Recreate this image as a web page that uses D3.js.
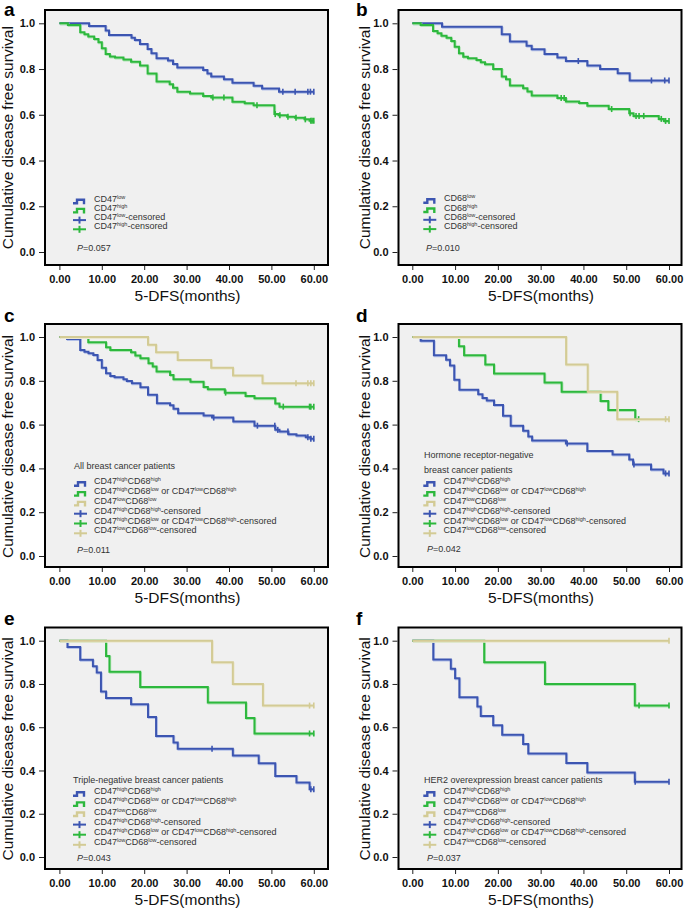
<!DOCTYPE html>
<html>
<head>
<meta charset="utf-8">
<script src="https://cdnjs.cloudflare.com/ajax/libs/d3/7.8.5/d3.min.js"></script>
<style>
body{margin:0;background:#fff;}
svg text{font-family:"Liberation Sans",Arial,sans-serif;}
</style>
</head>
<body>
<div id="canvas"></div>
<script>
// survival steps: [month, survival after the drop]; censored: months
var aLow = [[7.0,0.988],[10.9,0.968],[11.7,0.949],[17.0,0.937],[17.8,0.927],[19.0,0.909],[20.8,0.888],[21.7,0.869],[22.9,0.847],[25.6,0.837],[26.8,0.822],[27.8,0.807],[33.9,0.796],[34.9,0.781],[35.8,0.767],[38.8,0.755],[40.8,0.740],[45.8,0.727],[47.8,0.715],[51.8,0.701]];
var aLowCens = [52.7,55.6,58.6,59.2,60];
var aHigh = [[2.0,0.993],[4.9,0.961],[5.9,0.952],[6.8,0.942],[8.2,0.931],[9.2,0.917],[10.0,0.891],[10.9,0.866],[11.9,0.855],[13.1,0.850],[15.1,0.842],[16.9,0.832],[19.0,0.815],[20.8,0.781],[22.9,0.745],[26.0,0.734],[26.8,0.718],[27.8,0.701],[30.8,0.693],[33.9,0.682],[35.8,0.676],[40.8,0.657],[43.7,0.650],[45.8,0.642],[50.7,0.603],[51.7,0.598],[53.7,0.591],[55.6,0.587],[57.8,0.580],[59.0,0.574]];
var aHighCens = [36.2,38.8,46.6,50.9,52.0,53.9,55.8,58.0,59.3,59.6,60];

var bLow = [[6.95,0.985],[20.9,0.952],[22.8,0.920],[26.7,0.902],[27.9,0.886],[30.9,0.866],[33.9,0.850],[35.9,0.835],[40.9,0.815],[43.9,0.800],[48.0,0.782],[50.8,0.750]];
var bLowCens = [38.8,55.9,59.0,60];
var bHigh = [[1.95,0.993],[4.85,0.966],[5.9,0.956],[6.8,0.946],[8.0,0.937],[9.1,0.923],[9.9,0.898],[10.9,0.869],[11.9,0.854],[13.0,0.847],[15.0,0.840],[16.0,0.830],[17.0,0.821],[18.9,0.800],[20.9,0.767],[21.9,0.755],[22.8,0.728],[25.9,0.716],[26.9,0.702],[27.9,0.684],[33.9,0.673],[35.9,0.658],[39.0,0.651],[40.9,0.640],[45.9,0.625],[50.7,0.607],[51.7,0.595],[57.6,0.582],[58.8,0.573]];
var bHighCens = [34.8,35.5,46.6,50.9,52.3,53.0,54.1,58.2,59.2,60];

var cHH = [[1.8,0.991],[4.9,0.941],[5.9,0.933],[6.85,0.926],[8.0,0.918],[9.0,0.895],[10.0,0.860],[11.0,0.834],[12.0,0.822],[13.0,0.816],[15.1,0.807],[15.9,0.799],[17.1,0.789],[19.1,0.771],[20.9,0.736],[23.0,0.698],[26.1,0.688],[26.9,0.672],[28.0,0.652],[34.0,0.641],[36.0,0.632],[41.0,0.614],[46.0,0.595],[50.9,0.576],[51.9,0.569],[54.0,0.556],[55.9,0.550],[58.1,0.542],[59.2,0.535]];
var cHHCens = [36.4,46.7,50.8,51.5,53.9,58.6,59.3,60];
var cMix = [[6.8,0.976],[11.0,0.953],[12.0,0.941],[16.9,0.930],[17.9,0.915],[19.1,0.903],[21.0,0.880],[22.0,0.865],[22.9,0.842],[26.1,0.827],[26.9,0.807],[30.9,0.796],[34.0,0.772],[35.0,0.761],[39.0,0.746],[43.9,0.731],[46.0,0.720],[50.9,0.696],[51.9,0.682]];
var cMixCens = [39.2,52.8,59.0,59.3,60];
var cLL = [[20.9,0.965],[22.8,0.930],[27.9,0.895],[35.8,0.860],[40.95,0.824],[47.9,0.789]];
var cLLCens = [55.8,58.6,59.3,60];

var dHH = [[1.95,0.983],[5.05,0.917],[7.9,0.896],[8.8,0.870],[9.8,0.805],[11.0,0.759],[15.4,0.739],[16.4,0.721],[17.4,0.710],[19.1,0.690],[21.2,0.640],[23.0,0.595],[25.9,0.572],[27.1,0.546],[28.0,0.527],[35.9,0.514],[40.9,0.480],[46.8,0.464],[50.7,0.441],[51.6,0.418],[55.8,0.395],[58.7,0.377]];
var dHHCens = [36.2,51.8,59.2,60];
var dMix = [[10.9,0.958],[12.1,0.917],[17.05,0.875],[19.1,0.833],[30.9,0.792],[34.9,0.750],[44.0,0.708],[45.8,0.667],[52.1,0.625]];
var dMixCens = [52.9];
var dLL = [[35.95,0.875],[41.0,0.750],[47.9,0.625]];
var dLLCens = [59.2,60];

var eHH = [[1.9,0.971],[4.9,0.912],[7.9,0.882],[8.8,0.853],[9.8,0.765],[11.0,0.735],[16.9,0.706],[20.9,0.647],[22.8,0.559],[26.9,0.529],[27.9,0.500],[40.9,0.469],[47.0,0.434],[50.9,0.375],[55.9,0.344],[59.0,0.313]];
var eHHCens = [36.0,59.3,60];
var eMix = [[11.0,0.929],[11.8,0.857],[19.05,0.786],[35.0,0.714],[44.0,0.643],[46.0,0.571]];
var eMixCens = [59.0,60];
var eLL = [[36.0,0.900],[40.9,0.800],[48.0,0.700]];
var eLLCens = [59.0,60];

var fHH = [[4.9,0.913],[9.0,0.870],[10.0,0.826],[11.0,0.739],[15.2,0.696],[16.0,0.652],[18.9,0.609],[21.0,0.565],[25.9,0.522],[27.1,0.478],[36.0,0.435],[40.9,0.391],[52.0,0.348]];
var fHHCens = [52.1,60];
var fMix = [[16.8,0.900],[31.0,0.800],[52.0,0.700]];
var fMixCens = [53.0,60];
var fLL = [];
var fLLCens = [60];

var cd47Labels = ["CD47{low}","CD47{high}"];
var cd68Labels = ["CD68{low}","CD68{high}"];
var comboLabels = ["CD47{high}CD68{high}","CD47{high}CD68{low} or CD47{low}CD68{high}","CD47{low}CD68{low}"];
var pValues = ["0.057","0.010","0.011","0.042","0.043","0.037"];
var xTicks = [0,10,20,30,40,50,60];
var yTicks = [0,0.2,0.4,0.6,0.8,1.0];

var BLUE = "#3c55b1", GREEN = "#2db83d", TAN = "#d3cb95";
var SHADE = {};
SHADE[BLUE] = "#b3c0e8";
SHADE[GREEN] = "#ace3b1";
SHADE[TAN] = "#ebe7cf";

var cols = [
	{left:45, right:328, x0:59.4, x60:313.8, yTitle:13, letter:4},
	{left:398.5, right:681.5, x0:412.3, x60:669, yTitle:370, letter:356}
];
var rows = [
	{top:10, bottom:265, y1:23.3, y0:252, letter:16},
	{top:324, bottom:567, y1:337, y0:556, letter:322},
	{top:627.5, bottom:869, y1:640.7, y0:857, letter:625}
];

var panels = [
	{id:"a", col:0, row:0, p:pValues[0], labels:cd47Labels, title:[],
		groups:[{steps:aLow, cens:aLowCens, color:BLUE},{steps:aHigh, cens:aHighCens, color:GREEN}],
		leg:{sx:73, tx:94, y:201.7, dy:9.2, px:77, py:248.3}},
	{id:"b", col:1, row:0, p:pValues[1], labels:cd68Labels, title:[],
		groups:[{steps:bLow, cens:bLowCens, color:BLUE},{steps:bHigh, cens:bHighCens, color:GREEN}],
		leg:{sx:423.3, tx:444, y:201.2, dy:9.3, px:426, py:248.3}},
	{id:"c", col:0, row:1, p:pValues[2], labels:comboLabels, title:["All breast cancer patients"],
		groups:[{steps:cHH, cens:cHHCens, color:BLUE},{steps:cMix, cens:cMixCens, color:GREEN},{steps:cLL, cens:cLLCens, color:TAN}],
		leg:{sx:74, tx:94, y:484.3, dy:9.8, px:77, py:550, titleY:465.7, titleX:74}},
	{id:"d", col:1, row:1, p:pValues[3], labels:comboLabels, title:["Hormone receptor-negative","breast cancer patients"],
		groups:[{steps:dHH, cens:dHHCens, color:BLUE},{steps:dMix, cens:dMixCens, color:GREEN},{steps:dLL, cens:dLLCens, color:TAN}],
		leg:{sx:423.3, tx:443.5, y:484.3, dy:9.8, px:427, py:549.3, titleY:455, titleX:424}},
	{id:"e", col:0, row:2, p:pValues[4], labels:comboLabels, title:["Triple-negative breast cancer patients"],
		groups:[{steps:eHH, cens:eHHCens, color:BLUE},{steps:eMix, cens:eMixCens, color:GREEN},{steps:eLL, cens:eLLCens, color:TAN}],
		leg:{sx:73, tx:94, y:794.3, dy:10.1, px:77, py:858.3, titleY:780, titleX:73}},
	{id:"f", col:1, row:2, p:pValues[5], labels:comboLabels, title:["HER2 overexpression breast cancer patients"],
		groups:[{steps:fHH, cens:fHHCens, color:BLUE},{steps:fMix, cens:fMixCens, color:GREEN},{steps:fLL, cens:fLLCens, color:TAN}],
		leg:{sx:423.3, tx:443.5, y:794.3, dy:10.1, px:427, py:858.3, titleY:780, titleX:424}}
];

var svg = d3.select("#canvas")
	.append("svg")
	.attr("width", 685)
	.attr("height", 911);

svg.append("rect")
	.attr("width", 685)
	.attr("height", 911)
	.attr("fill", "#fff");

function survAt(steps, t){
	var s = 1;
	steps.forEach(function(d){ if(d[0] <= t) s = d[1]; });
	return s;
}

function richText(sel, str){
	var parts = str.split(/(\{[^}]*\})/).filter(function(s){ return s.length; });
	var sup = false;
	parts.forEach(function(p){
		if(p[0] === "{"){
			sel.append("tspan").attr("font-size", 5.5).attr("dy", -3).text(p.slice(1, -1));
			sup = true;
		}else{
			sel.append("tspan").attr("dy", sup ? 3 : 0).text(p);
			sup = false;
		}
	});
}

panels.forEach(function(pn){
	var c = cols[pn.col], r = rows[pn.row];
	var g = svg.append("g").attr("class", "panel");
	var x = d3.scaleLinear().domain([0, 60]).range([c.x0, c.x60]);
	var y = d3.scaleLinear().domain([0, 1]).range([r.y0, r.y1]);

	g.append("rect")
		.attr("x", c.left)
		.attr("y", r.top)
		.attr("width", c.right - c.left)
		.attr("height", r.bottom - r.top)
		.attr("fill", "#f0f0f0")
		.attr("stroke", "#000")
		.attr("stroke-width", 2);

	var yAxis = g.append("g")
		.attr("transform", "translate(" + (c.left - 1) + ",0)")
		.call(d3.axisLeft(y).tickValues(yTicks).tickFormat(d3.format(".1f")).tickSize(5).tickPadding(4));
	var xAxis = g.append("g")
		.attr("transform", "translate(0," + (r.bottom + 1) + ")")
		.call(d3.axisBottom(x).tickValues(xTicks).tickFormat(d3.format(".2f")).tickSize(4).tickPadding(5));
	[yAxis, xAxis].forEach(function(ax){
		ax.select(".domain").remove();
		ax.selectAll("text")
			.attr("font-size", 11)
			.attr("font-weight", "bold")
			.attr("fill", "#111")
			.style("font-family", "'Liberation Sans',Arial,sans-serif");
		ax.selectAll("line").attr("stroke", "#222");
	});

	g.append("text")
		.attr("x", (c.left + c.right) / 2 + 1)
		.attr("y", r.bottom + 36)
		.attr("text-anchor", "middle")
		.attr("font-size", 15.5)
		.attr("fill", "#111")
		.text("5-DFS(months)");

	g.append("text")
		.attr("transform", "translate(" + c.yTitle + "," + ((r.y0 + r.y1) / 2) + ") rotate(-90)")
		.attr("text-anchor", "middle")
		.attr("font-size", 15.5)
		.attr("fill", "#111")
		.text("Cumulative disease free survival");

	g.append("text")
		.attr("x", c.letter)
		.attr("y", r.letter)
		.attr("font-size", 19)
		.attr("font-weight", "bold")
		.attr("fill", "#000")
		.text(pn.id);

	var line = d3.line()
		.x(function(d){ return x(d[0]); })
		.y(function(d){ return y(d[1]); })
		.curve(d3.curveStepAfter);

	pn.groups.forEach(function(grp){
		var last = grp.steps.length ? grp.steps[grp.steps.length - 1] : [0, 1];
		var end = Math.max(last[0], d3.max(grp.cens));
		var pts = [[0, 1]].concat(grp.steps).concat([[end, last[1]]]);
		g.append("path")
			.attr("d", line(pts))
			.attr("transform", "translate(0.8,1)")
			.attr("fill", "none")
			.attr("stroke", SHADE[grp.color])
			.attr("stroke-width", 2);
		g.append("path")
			.attr("d", line(pts))
			.attr("fill", "none")
			.attr("stroke", grp.color)
			.attr("stroke-width", 2);
		g.selectAll(null)
			.data(grp.cens)
			.enter()
			.append("line")
			.attr("x1", function(d){ return x(d); })
			.attr("x2", function(d){ return x(d); })
			.attr("y1", function(d){ return y(survAt(grp.steps, d)) - 3; })
			.attr("y2", function(d){ return y(survAt(grp.steps, d)) + 3; })
			.attr("stroke", grp.color)
			.attr("stroke-width", 1.6);
	});

	// legend
	var L = pn.leg;
	pn.title.forEach(function(t, i){
		g.append("text")
			.attr("x", L.titleX)
			.attr("y", L.titleY + i * 15)
			.attr("dy", "0.35em")
			.attr("font-size", 9)
			.attr("fill", "#333")
			.text(t);
	});
	var n = pn.groups.length;
	pn.groups.forEach(function(grp, i){
		var yy = L.y + i * L.dy;
		g.append("path")
			.attr("d", "M" + L.sx + "," + (yy + 1.5) + "H" + (L.sx + 4) + "V" + (yy - 2) + "H" + (L.sx + 11) + "V" + (yy + 2.5))
			.attr("fill", "none")
			.attr("stroke", grp.color)
			.attr("stroke-width", 2.4);
		var t1 = g.append("text")
			.attr("x", L.tx)
			.attr("y", yy)
			.attr("dy", "0.35em")
			.attr("font-size", 9)
			.attr("fill", "#333");
		richText(t1, pn.labels[i]);

		var yc = L.y + (n + i) * L.dy;
		g.append("line")
			.attr("x1", L.sx).attr("x2", L.sx + 13)
			.attr("y1", yc).attr("y2", yc)
			.attr("stroke", grp.color)
			.attr("stroke-width", 2);
		g.append("line")
			.attr("x1", L.sx + 6.5).attr("x2", L.sx + 6.5)
			.attr("y1", yc - 3.5).attr("y2", yc + 3.5)
			.attr("stroke", grp.color)
			.attr("stroke-width", 2);
		var t2 = g.append("text")
			.attr("x", L.tx)
			.attr("y", yc)
			.attr("dy", "0.35em")
			.attr("font-size", 9)
			.attr("fill", "#333");
		richText(t2, pn.labels[i] + "-censored");
	});

	var pt = g.append("text")
		.attr("x", L.px)
		.attr("y", L.py)
		.attr("dy", "0.35em")
		.attr("font-size", 9)
		.attr("fill", "#333");
	pt.append("tspan").attr("font-style", "italic").text("P");
	pt.append("tspan").text("=" + pn.p);
});
</script>
</body>
</html>
